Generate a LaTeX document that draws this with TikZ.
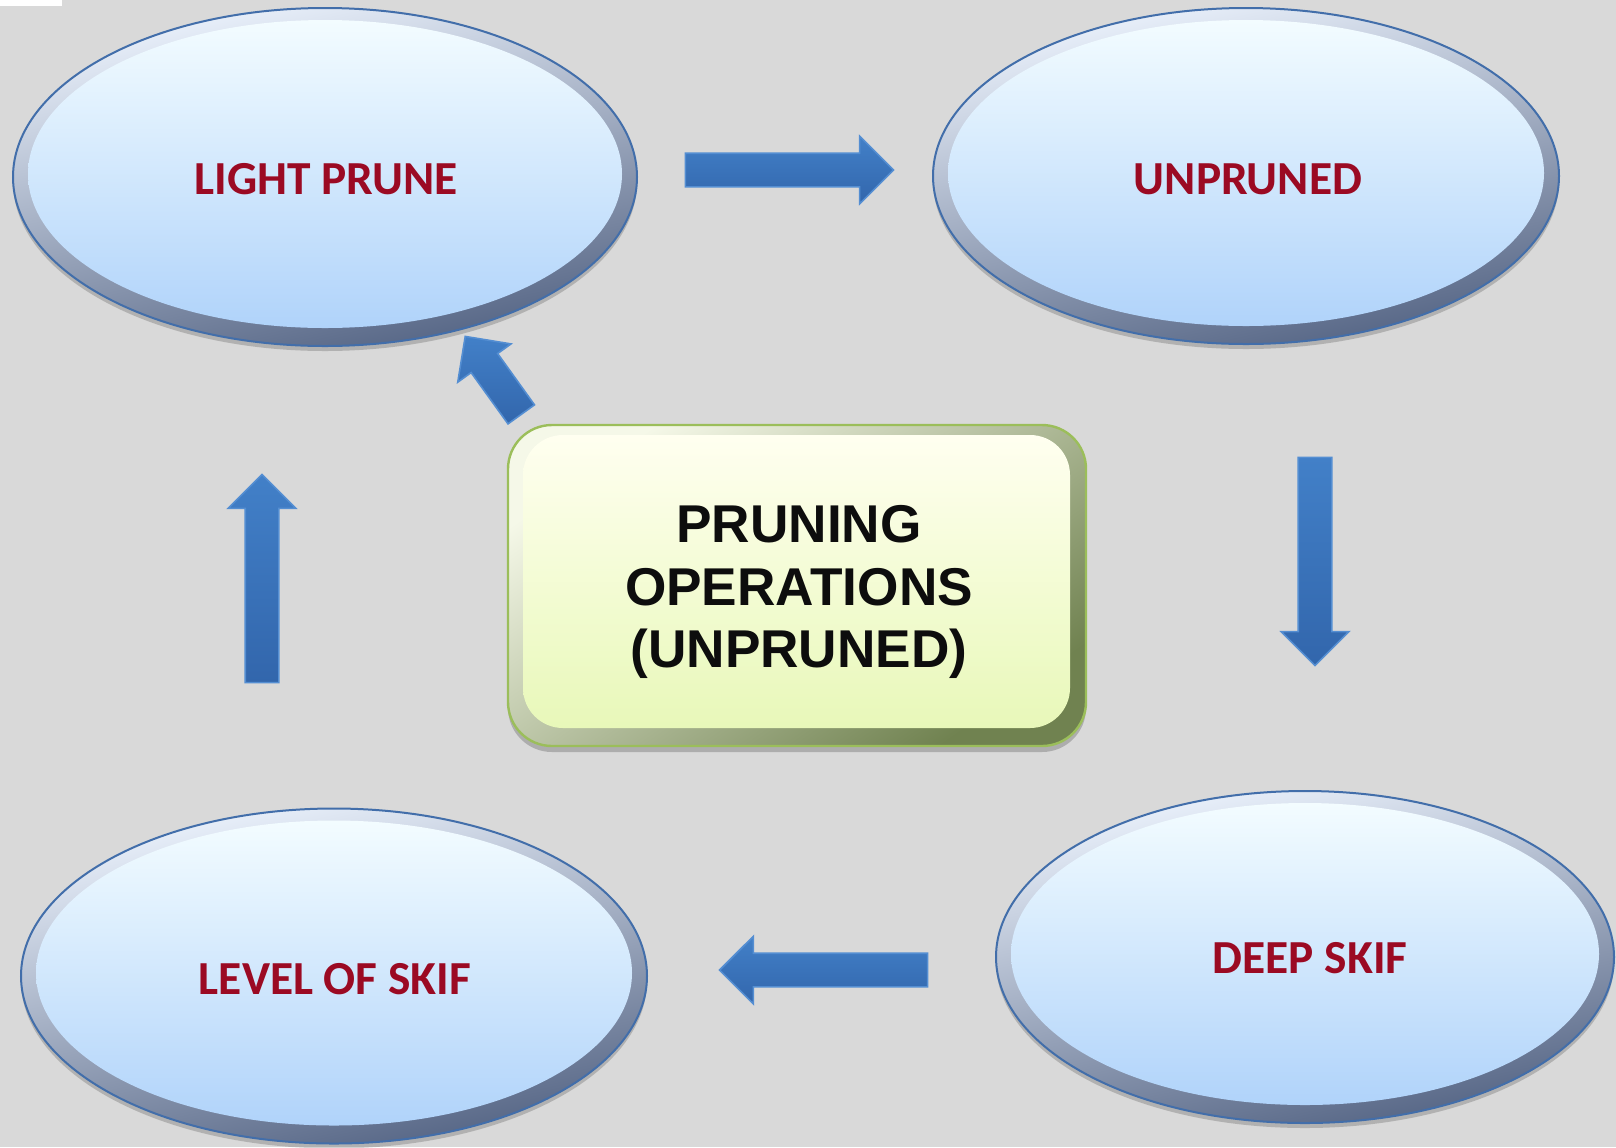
\documentclass[tikz,border=0pt]{standalone}
\usepackage{fontspec}
\setmainfont{Liberation Sans}
\newfontfamily\calibri{Carlito}
\usetikzlibrary{shapes.geometric,shapes.arrows,shadows}

\definecolor{bg}{RGB}{217,217,217}
\definecolor{txtred}{RGB}{155,10,35}
\definecolor{arrlight}{RGB}{66,128,200}
\definecolor{arrdark}{RGB}{50,102,172}
\definecolor{arredge}{RGB}{84,142,210}
\definecolor{elltop}{RGB}{243,252,255}
\definecolor{ellbot}{RGB}{176,211,250}
\definecolor{ringtop}{RGB}{236,243,253}
\definecolor{ringbot}{RGB}{84,100,132}
\definecolor{ringline}{RGB}{66,110,170}
\definecolor{boxtop}{RGB}{255,255,240}
\definecolor{boxbot}{RGB}{232,248,185}
\definecolor{boxringtop}{RGB}{245,248,232}
\definecolor{boxringbot}{RGB}{112,130,80}
\definecolor{boxline}{RGB}{155,190,90}

\begin{document}
\begin{tikzpicture}[x=0.5pt,y=-0.5pt,
  ellring/.style={ellipse, inner sep=0pt, draw=ringline, line width=1pt,
    top color=ringtop, bottom color=ringbot, shading angle=12,
    drop shadow={shadow xshift=0pt, shadow yshift=-2.5pt, opacity=0.18, fill=black}},
  ellface/.style={ellipse, inner sep=0pt, top color=elltop, bottom color=ellbot},
  elltext/.style={inner sep=0pt, font=\calibri\bfseries\fontsize{23.7pt}{28pt}\selectfont, text=txtred},
  boxring/.style={rectangle, rounded corners=22pt, inner sep=0pt, draw=boxline, line width=1.2pt,
    top color=boxringtop, bottom color=boxringbot, shading angle=35,
    minimum width=289pt, minimum height=160.5pt,
    drop shadow={shadow xshift=0pt, shadow yshift=-3pt, opacity=0.2, fill=black}},
  boxface/.style={rectangle, rounded corners=20pt, inner sep=0pt, top color=boxtop, bottom color=boxbot,
    minimum width=273.5pt, minimum height=146.5pt},
  boxtext/.style={inner sep=0pt, align=center,
    font=\bfseries\fontsize{26.6pt}{31.4pt}\selectfont, text=black!95},
  blockarr/.style={single arrow, single arrow tip angle=90, single arrow head extend=8.5pt,
    inner xsep=0pt, inner ysep=8pt, minimum height=104pt,
    draw=arredge, line width=0.8pt, top color=arrlight, bottom color=arrdark}
]
\useasboundingbox (0,0) rectangle (1616,1147);
\fill[bg] (0,0) rectangle (1616,1147);
\fill[white] (0,0) rectangle (62,6);

% ellipse rings
\node[ellring, minimum width=312pt, minimum height=169pt] (lightring) at (325,177) {};
\node[ellring, minimum width=313pt, minimum height=168pt] (unprring) at (1246,176) {};
\node[ellring, minimum width=313pt, minimum height=167.5pt] (levelring) at (334,976) {};
\node[ellring, minimum width=309pt, minimum height=166pt] (deepring) at (1305,957) {};

% ellipse faces
\node[ellface, minimum width=297pt, minimum height=154pt] (lightface) at (325,174) {};
\node[ellface, minimum width=298pt, minimum height=153pt] (unprface) at (1246,173) {};
\node[ellface, minimum width=298pt, minimum height=152.5pt] (levelface) at (334,973) {};
\node[ellface, minimum width=294pt, minimum height=151pt] (deepface) at (1305,954) {};

% ellipse labels
\node[elltext] (light) at (326,179) {LIGHT PRUNE};
\node[elltext] (unpruned) at (1248,179) {UNPRUNED};
\node[elltext] (level) at (335,979) {LEVEL OF SKIF};
\node[elltext] (deep) at (1310,958) {DEEP SKIF};

% centre box
\node[boxring] (opsring) at (797,585.5) {};
\node[boxface] (opsface) at (796.5,581.5) {};
\node[boxtext] (ops) at (799,592) {PRUNING\\OPERATIONS\\(UNPRUNED)};

% block arrows
\node[blockarr] (a1) at (781,170) {};
\node[blockarr, rotate=-90] (a2) at (1315,553) {};
\node[blockarr, rotate=180] (a3) at (832,970) {};
\node[blockarr, rotate=90] (a4) at (262,587) {};
\node[blockarr, rotate=125.7, minimum height=48pt,
      inner ysep=7.75pt, single arrow head extend=8.25pt] (a5) at (498,382) {};
\end{tikzpicture}
\end{document}
